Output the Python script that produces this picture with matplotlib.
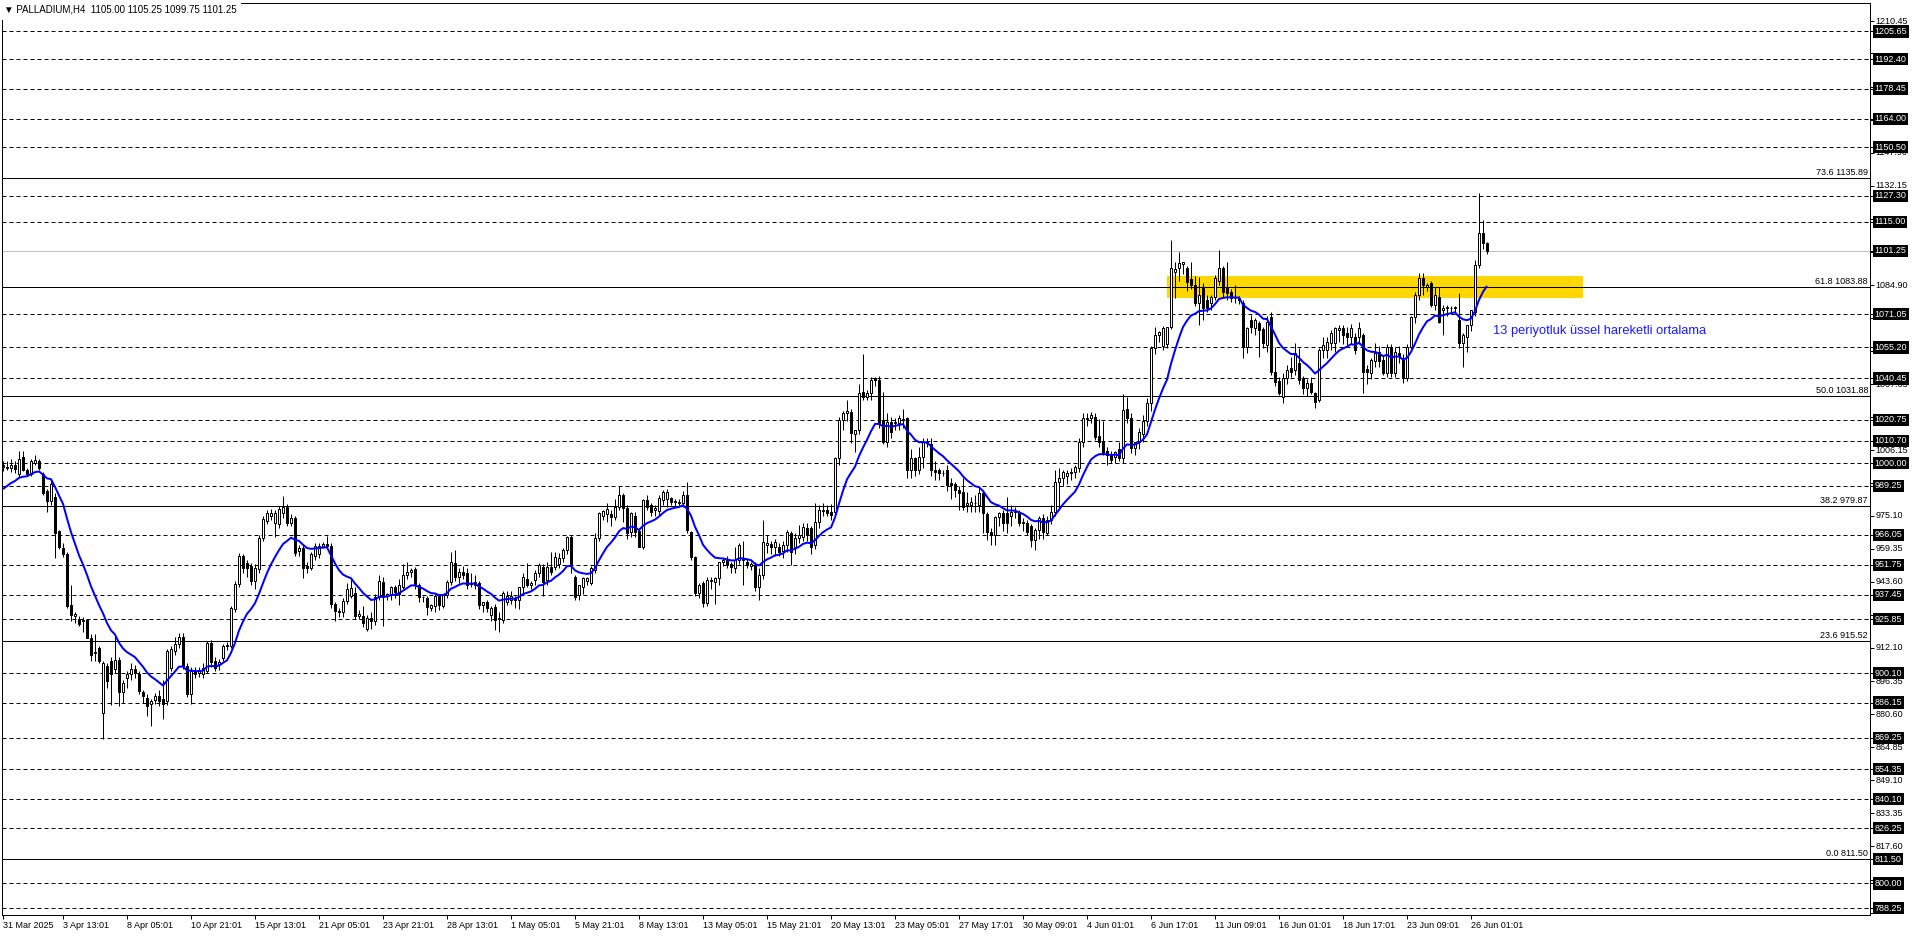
import matplotlib
matplotlib.use("Agg")
import matplotlib.pyplot as plt
import matplotlib.transforms as mtransforms
from matplotlib.patches import Rectangle
import numpy as np

# ---------------- data ----------------
title_text = "\u25bc PALLADIUM,H4  1105.00 1105.25 1099.75 1101.25"

opens = [
    999, 998.5, 998, 999, 995, 1003, 997, 995, 1000, 1001,
    995, 987, 982, 984, 968, 959.5, 957, 932.5, 927.5, 926,
    925, 925.5, 917, 909.5, 912, 881, 903.6, 906, 902, 906.5,
    891, 898, 899.6, 902, 899.6, 891, 888.5, 885.3, 887.5, 889.3,
    887.7, 886.9, 902.8, 910.7, 913.9, 917.1, 903.6, 890.1, 901.2, 900,
    899.6, 901.2, 914.7, 906, 904.5, 907.5, 913.1, 913.1, 930.6, 942.5,
    956, 952.8, 951.2, 944, 949.6, 964.7, 972.6, 975, 971.8, 971,
    976.6, 979, 971.8, 974.2, 958.3, 959.9, 951.2, 950.4, 956, 956.7,
    960.7, 961.5, 960.7, 932.9, 929, 929, 934.5, 936.9, 938.5, 927.4,
    927.4, 921, 926.6, 925, 936.5, 943.7, 937, 937.3, 941, 938,
    941.3, 946.8, 948.4, 949.5, 942, 936.5, 936, 931, 932, 937,
    932, 937.3, 943.7, 952.4, 946, 948.4, 947.6, 943, 942, 942.9,
    932.6, 934, 928, 931.8, 926, 925.4, 934, 935, 935, 934.8,
    941.3, 945, 942, 944.5, 947.6, 950.8, 944.5, 950.8, 950.8, 952,
    954.8, 958.8, 965.1, 946, 937.3, 941, 944, 943, 949, 964.3,
    975, 976, 976, 974.6, 979.4, 985, 978.6, 967.5, 975, 968,
    960.3, 982.5, 980, 978, 977.5, 982.5, 983, 983.3, 981.8, 981,
    981, 985, 967.5, 955.6, 938.1, 942.9, 933.4, 944, 943.7, 945.2,
    953, 954, 952, 950, 954, 955, 953, 951, 951.6, 941.3,
    947, 961, 961.5, 960, 960.3, 958.5, 961, 966.7, 960, 964.3,
    965, 969, 969, 961, 972, 977.5, 978, 977, 977, 1002.4,
    1020.6, 1024, 1024.5, 1014, 1015.9, 1034.2, 1031.8, 1033.4, 1040.5, 1039.7,
    1020.6, 1010.3, 1019.8, 1019, 1019, 1021, 1021.4, 996.8, 1002.4, 997,
    1003, 1010.3, 1009, 996.8, 996.8, 995.5, 996.8, 990.5, 990, 987.3,
    986.5, 980, 980, 981, 980, 985.7, 976, 967.5, 965.9, 974.6,
    976.2, 976.2, 975, 977, 977, 972, 971.4, 970, 963.5, 968.3,
    973.8, 966.7, 973, 977, 991.3, 992.8, 994, 995.5, 996, 997.6,
    1010.3, 1021, 1021.4, 1022, 1013, 1010, 1006, 1004, 1003, 1007,
    1002.4, 1026, 1021.4, 1007.2, 1010, 1014, 1020, 1028.6, 1055, 1061,
    1055.7, 1057, 1065, 1091, 1092.8, 1095, 1092.8, 1088, 1084.9, 1076.2,
    1084, 1077.8, 1076.2, 1079.4, 1087, 1092.8, 1083.3, 1081.7, 1078.6, 1078,
    1076.2, 1055.5, 1068.3, 1064.3, 1066.7, 1064, 1056.3, 1069.8, 1043.6, 1039,
    1031.7, 1040.5, 1045.2, 1044.4, 1047.6, 1040.5, 1035.7, 1038.1, 1033.3, 1030.2,
    1054, 1054, 1057.1, 1057.1, 1063.5, 1064.3, 1061.9, 1060, 1060.3, 1060.3,
    1061.1, 1045, 1043, 1048.5, 1053.2, 1049.2, 1043, 1055.5, 1043, 1052.4,
    1050, 1040.5, 1055.5, 1069.8, 1080.2, 1088.1, 1084, 1085.7, 1075.4, 1079.4,
    1073, 1073.8, 1074, 1074, 1068.3, 1057.1, 1060.3, 1066, 1072, 1094.4,
    1109.5, 1105,
]

highs = [
    1001, 1001, 1002, 1001, 1006, 1006, 998, 1002, 1004, 1002,
    996, 988, 992, 986, 968.5, 962, 958, 942, 929, 927.5,
    927, 926, 919, 919, 913, 906, 905, 908, 918.7, 908,
    897, 901, 905, 904, 901, 892, 890, 888, 890.5, 892,
    897, 911.5, 913, 917.1, 919.4, 919.4, 905, 903, 903, 903,
    905, 915.5, 916, 908, 907, 914, 915, 932, 944, 957.5,
    957, 954, 952.5, 952, 966, 975, 978, 978.5, 978, 979.5,
    984.5, 980.5, 976, 975, 961, 961, 953, 958, 962, 962,
    962.5, 965.5, 962, 934, 931, 936, 943, 945, 941, 930,
    932, 928, 929, 938, 947, 946, 938.5, 941.5, 942, 945,
    952, 953, 950, 950.5, 943, 937, 937, 933, 938, 938,
    938, 944.5, 958, 958.8, 950, 951, 950, 947.6, 947, 944,
    934, 935, 932, 933, 929, 939, 939, 939, 937, 941.3,
    948, 952.4, 944, 949, 952.4, 952, 953, 958, 958, 957.5,
    959.5, 965.5, 966, 947, 942, 946, 946, 951, 967, 977,
    978, 981, 978, 983, 989, 986, 980, 977, 977, 969,
    983, 985, 981, 980, 985, 987.5, 988, 984, 983, 983,
    987, 991.3, 968, 956, 943, 944, 946, 946, 946, 953,
    955, 956, 953, 960, 962, 963, 955, 953, 953, 950,
    973, 966, 963, 964, 962, 963, 968.3, 968, 967, 970.6,
    971.5, 971.5, 970, 981, 980, 981, 980, 980.5, 1003, 1022,
    1025, 1030, 1026, 1016, 1038, 1052, 1035, 1041, 1041, 1041.5,
    1034, 1024, 1022, 1021.5, 1023, 1026, 1022, 1007, 1003, 1008,
    1012, 1012, 1012, 1001, 998, 997, 999, 993, 991, 989,
    993, 986.5, 984, 985, 989, 987, 977, 969, 975, 977,
    978, 984, 980, 979, 978, 974, 973, 971, 969, 975,
    976, 975, 980, 997, 998, 997, 997, 998, 999.2, 1012,
    1023.8, 1024, 1024.5, 1024, 1021, 1020, 1008, 1006, 1006, 1010,
    1033, 1031.7, 1024, 1010, 1017, 1023, 1031, 1056, 1065, 1063,
    1065.5, 1065, 1106.3, 1096, 1100.8, 1096, 1094, 1096, 1089, 1088.9,
    1086, 1080, 1080, 1089.7, 1101.6, 1094, 1096, 1083, 1085, 1079.5,
    1077.8, 1065, 1070.6, 1069, 1068, 1065, 1070, 1072, 1055.5, 1041,
    1043, 1047, 1050.8, 1057.1, 1054.8, 1041.5, 1040, 1041, 1034, 1055,
    1060.3, 1060, 1063.5, 1065.1, 1065.9, 1066, 1065, 1066.5, 1062, 1067.5,
    1062, 1047, 1050, 1057.1, 1056, 1051, 1057, 1057, 1055.5, 1056,
    1052, 1057, 1070, 1081.7, 1090.5, 1090.5, 1086, 1087, 1084, 1084,
    1075.5, 1075.5, 1075, 1075, 1081, 1062, 1066, 1073, 1096.8, 1128.6,
    1115.9, 1105.25,
]

lows = [
    996.5, 997, 996, 995.5, 993, 996.5, 994, 994, 999, 997,
    985, 977, 980, 955, 959, 955.5, 931, 925, 924, 922.5,
    919.5, 917, 906, 906, 905, 869, 893, 885, 900, 884.5,
    886, 893, 897, 898, 890, 886, 879.8, 875, 885.5, 884.5,
    878.2, 885, 901, 909, 912, 902, 889, 885.3, 898, 898.5,
    898, 900, 903, 901, 901.5, 906, 911, 912, 929, 941,
    948, 946, 942, 940.1, 948, 963, 971, 973, 965, 969,
    974, 970, 970, 956, 956, 945.6, 948, 949, 954, 955,
    959.5, 959, 931, 925, 927, 927, 933, 936, 926, 926,
    922, 920, 921, 923, 935, 922.5, 935, 935, 936, 932.6,
    940, 945, 946, 940, 934, 934, 928, 929.5, 929, 930,
    931, 936, 942, 944, 943, 945, 940, 941, 940, 930.5,
    929, 929, 925, 920.7, 919.9, 924, 932.5, 933, 931, 930.8,
    938, 941, 940, 942, 946, 937, 942, 947, 949, 950,
    953, 957, 948, 935, 935, 938, 942, 942, 948, 963,
    973, 972, 970, 973, 978, 972, 964, 965, 965, 960,
    959, 978, 975, 975, 975, 980, 979, 980, 979, 979,
    979, 967, 954, 937, 936, 931.8, 932, 940, 933, 942,
    951, 950, 947.6, 948, 952, 942, 950, 949, 939, 935,
    945, 957.5, 957, 956, 956, 955, 958, 951.6, 957, 962,
    963, 963, 957, 959, 969, 975, 975, 973, 975, 999,
    1016, 1020, 1009.5, 1005.5, 1014, 1030, 1030, 1030, 1037, 1017,
    1009, 1008, 1012, 1016, 1016, 1017, 992.8, 993, 994, 995,
    998, 1008, 994, 992, 992, 994, 987, 983, 984, 977.7,
    978, 977, 977, 977, 977, 966.7, 963.5, 961, 961, 970,
    968, 967, 970, 974, 970, 968, 966, 960, 958.7, 964,
    964, 966, 971, 975, 978, 989, 990, 992, 993, 996,
    1008, 1018, 1019, 1011, 1008, 1004, 999, 1000, 1000, 1001,
    1000, 1019, 1005, 1004, 1007, 1010, 1018, 1025, 1052, 1058,
    1054, 1055, 1064, 1078.6, 1087, 1090, 1082, 1083, 1075, 1065.9,
    1068.3, 1072, 1073, 1078, 1085, 1079, 1077.8, 1077, 1076.2, 1076,
    1050, 1052.4, 1062, 1061, 1050.8, 1054.8, 1053, 1042, 1037, 1032.5,
    1028.6, 1038, 1041, 1042, 1038, 1033, 1032, 1033, 1026.2, 1029,
    1050, 1050, 1054, 1053, 1058, 1057, 1056, 1057, 1052, 1057,
    1033.3, 1038, 1040, 1046, 1046, 1042, 1041, 1041, 1041, 1048,
    1038.1, 1039, 1054, 1067, 1078, 1080, 1082, 1074.6, 1073, 1066.7,
    1061, 1070, 1071, 1072, 1054.8, 1046, 1053, 1063, 1070, 1093,
    1102, 1099.75,
]

closes = [
    998.5, 998, 999, 997.5, 1002, 997, 995, 1001, 1001.5, 998,
    986, 982, 990, 967, 960, 957, 932, 928, 928.5, 923.5,
    925.5, 917, 909, 910, 906, 905, 896.4, 899.6, 906.5, 891,
    895.6, 899.6, 902, 900.4, 891.7, 889.3, 884.5, 886.9, 889.3, 886.9,
    885.3, 910.7, 911.5, 913.9, 917.1, 903.6, 890.1, 901.2, 899.6, 901,
    902.8, 914.7, 905.2, 902.8, 905.2, 913.1, 913.5, 931.3, 942.5, 956,
    950.4, 950.4, 944, 950.4, 964.7, 973.4, 976.6, 976.6, 976.6, 978.2,
    979, 971.8, 974.2, 957.5, 959.9, 950.4, 950.4, 956.7, 960.7, 960.7,
    961.5, 960.7, 932.9, 929.8, 929.8, 934.5, 940.1, 940.9, 927.4, 928.2,
    924.2, 926.6, 925, 936.5, 944, 936.5, 937.6, 941.3, 938.6, 942,
    946.8, 948.4, 949.2, 942, 936.5, 936.2, 931.8, 932.5, 937, 932.5,
    937.3, 943.7, 953.2, 946, 948.4, 946.8, 942, 942.5, 943.7, 932.6,
    934.2, 931, 931, 925.4, 925.9, 938.1, 937, 936.9, 935.5, 941.3,
    946, 942, 943, 947.6, 951.6, 943.7, 950.8, 948.4, 955.6, 954.8,
    958.8, 965.1, 952, 936.5, 942, 945.2, 945.5, 950, 964.3, 976.2,
    977.3, 978.5, 974.6, 979.4, 985, 978.6, 966.7, 976.2, 967.5, 960.3,
    982.5, 979.4, 977, 978.6, 983.3, 986.5, 986.5, 981.8, 981.8, 981.4,
    985, 968.3, 955.6, 938.1, 942, 933.4, 944.5, 944.5, 945.2, 953.2,
    954, 951.6, 950.8, 954, 961, 954.2, 951.5, 952, 941.3, 946.8,
    962.7, 962, 960.3, 962.7, 958, 961, 967.5, 958, 964.3, 965.9,
    969.8, 965.9, 960.3, 972, 977.8, 977.8, 976.2, 975.4, 1002.4, 1020.6,
    1023.8, 1024.8, 1014.3, 1015.9, 1033.7, 1031.8, 1033.4, 1039.7, 1039.7, 1019,
    1010.3, 1019.8, 1015, 1019.8, 1021.4, 1020.6, 996.8, 1002.4, 996.8, 1003,
    1010.3, 1009.5, 996.8, 996, 995.2, 995.2, 989.7, 989.7, 987.3, 985.7,
    979.4, 980.9, 981.7, 980.9, 985.7, 976.2, 967.5, 965.9, 974.6, 976.2,
    971.4, 971.4, 977, 977.5, 971.4, 971.4, 967.5, 963.5, 968.3, 973.8,
    967.5, 973, 977, 991.3, 992.8, 996, 995.5, 996, 998.4, 1010.3,
    1021.4, 1021.4, 1023, 1012.7, 1010.3, 1004.7, 1004, 1001.6, 1005.5, 1002.4,
    1025.4, 1021.4, 1007.2, 1010.3, 1015, 1020, 1028.6, 1054.8, 1061.1, 1062.7,
    1064.3, 1065, 1092.8, 1092.5, 1095.2, 1095.7, 1086.5, 1084.9, 1076.2, 1080.2,
    1073.8, 1073.8, 1079.4, 1088.1, 1092.8, 1081.7, 1081, 1078.6, 1078.8, 1078.8,
    1055.5, 1064.3, 1065.1, 1068.3, 1063.5, 1057.1, 1067.5, 1043.6, 1038.9, 1033.3,
    1040.5, 1044.4, 1043.6, 1052.4, 1039.7, 1035.7, 1038.1, 1034.1, 1029.4, 1054,
    1056.3, 1057.9, 1061.9, 1064.3, 1064.3, 1061.1, 1060.3, 1064.3, 1054, 1064.3,
    1043.6, 1043.6, 1049.2, 1052.4, 1048.5, 1043, 1055.5, 1043, 1053.2, 1051,
    1040.5, 1055.5, 1069.8, 1080.2, 1088.1, 1084.9, 1085, 1075.4, 1080.2, 1067.5,
    1073.8, 1074.6, 1073.8, 1074.6, 1057.1, 1061.1, 1065.9, 1073, 1094.4, 1109.5,
    1104.8, 1101.25,
]

ema_period = 13
ema_seed = 986.0   # value of the moving average just before the first visible bar

# x-axis labels (bar index where each label sits)
time_tick_bars = [0, 15, 31, 47, 63, 79, 95, 111, 127, 143, 159, 175, 191, 207,
                  223, 239, 255, 271, 287, 303, 319, 335, 351, 367]
time_tick_labels = ["31 Mar 2025", "3 Apr 13:01", "8 Apr 05:01", "10 Apr 21:01",
                    "15 Apr 13:01", "21 Apr 05:01", "23 Apr 21:01", "28 Apr 13:01",
                    "1 May 05:01", "5 May 21:01", "8 May 13:01", "13 May 05:01",
                    "15 May 21:01", "20 May 13:01", "23 May 05:01", "27 May 17:01",
                    "30 May 09:01", "4 Jun 01:01", "6 Jun 17:01", "11 Jun 09:01",
                    "16 Jun 01:01", "18 Jun 17:01", "23 Jun 09:01", "26 Jun 01:01"]

# price-scale tick marks, and the labels that are not covered by a price box
price_ticks = [1210.45, 1195.15, 1179.40, 1163.65, 1147.90, 1132.15, 1116.40, 1100.65,
               1084.90, 1069.15, 1053.40, 1037.65, 1021.90, 1006.15, 990.85, 975.10,
               959.35, 943.60, 927.85, 912.10, 896.35, 880.60, 864.85, 849.10,
               833.35, 817.60, 801.85, 786.10]
price_tick_labels = [1210.45, 1147.90, 1132.15, 1084.90, 1037.65, 1006.15, 975.10,
                     959.35, 943.60, 912.10, 896.35, 880.60, 864.85, 849.10,
                     833.35, 817.60]

# horizontal dashed levels (each with a black price box)
dashed_levels = [1205.65, 1192.40, 1178.45, 1164.00, 1150.50, 1127.30, 1115.00,
                 1071.05, 1055.20, 1040.45, 1020.75, 1010.70, 1000.00, 989.25,
                 966.05, 951.75, 937.45, 925.85, 900.10, 886.15, 869.25, 854.35,
                 840.10, 826.25, 800.00, 788.25]
bid_price = 1101.25

# Fibonacci levels
fib_ratios = ["73.6", "61.8", "50.0", "38.2", "23.6", "0.0"]
fib_prices = [1135.89, 1083.88, 1031.88, 979.87, 915.52, 811.50]
boxed_fib = [811.50]

# highlighted zone
zone_start_bar, zone_end_bar = 290.9, 394.9
zone_low, zone_high = 1078.9, 1089.2

ema_label = "13 periyotluk üssel hareketli ortalama"
ema_label_pos = (372.5, 1063.0)

# ---------------- figure ----------------
W, H = 1916, 936
DPI = 100
FONT = ["Liberation Sans", "DejaVu Sans"]
plt.rcParams["font.family"] = FONT

fig = plt.figure(figsize=(W / DPI, H / DPI), dpi=DPI, facecolor="white")
ax_left, ax_right, ax_top, ax_bottom = 2, 1870, 3, 915
ax = fig.add_axes([ax_left / W, 1 - ax_bottom / H, (ax_right - ax_left) / W,
                   (ax_bottom - ax_top) / H])
ax.set_facecolor("white")

n = len(closes)
x = np.arange(n)
o = np.array(opens, float)
h = np.array(highs, float)
l = np.array(lows, float)
c = np.array(closes, float)

px_per_bar = 4.0
ax.set_xlim((ax_left - 3) / px_per_bar, (ax_right - 3) / px_per_bar)
ax.set_ylim(784.98, 1219.18)

LW1 = 72 / DPI  # one pixel in points

# zone
ax.add_patch(Rectangle((zone_start_bar, zone_low), zone_end_bar - zone_start_bar,
                       zone_high - zone_low, facecolor="#FFD700", edgecolor="none",
                       zorder=1))

# dashed levels
for lv in dashed_levels:
    ax.axhline(lv, color="black", lw=LW1, linestyle=(0, (4, 3)), zorder=2)
# bid line
ax.axhline(bid_price, color="#C0C0C0", lw=LW1, zorder=2)
# fib lines
for lv in fib_prices:
    ax.axhline(lv, color="black", lw=LW1, zorder=2)

# candles
ax.vlines(x, l, h, color="black", lw=LW1, zorder=3)
body_low = np.minimum(o, c)
body_h = np.maximum(np.abs(c - o), 0.35)
up = c >= o
ax.bar(x, body_h, bottom=body_low, width=0.5,
       color=np.where(up, "white", "black"), edgecolor="black",
       linewidth=LW1, zorder=4)

# EMA
alpha = 2.0 / (ema_period + 1)
ema = []
e = ema_seed
for v in c:
    e = e + alpha * (v - e)
    ema.append(e)
ax.plot(x, ema, color="#0000FF", lw=2 * LW1, zorder=5, solid_capstyle="butt")

# EMA label
ax.text(ema_label_pos[0], ema_label_pos[1], ema_label, color="#1a1aff",
        fontsize=9.3, va="center", ha="left", zorder=6)

# fib labels
trans_ax_data = mtransforms.blended_transform_factory(ax.transAxes, ax.transData)
for r, p in zip(fib_ratios, fib_prices):
    ax.annotate(f"{r} {p:.2f}", xy=(1.0, p), xycoords=trans_ax_data,
                xytext=(-2 * LW1, 1 * LW1), textcoords="offset points",
                ha="right", va="bottom", fontsize=6.5, color="black", zorder=6)

# spines
for s in ax.spines.values():
    s.set_linewidth(LW1)
    s.set_color("black")

# y axis on the right: tick marks for every grid value and price box
ax.yaxis.tick_right()
ax.set_yticks(price_ticks + dashed_levels + [bid_price] + boxed_fib)
ax.set_yticklabels([])
ax.tick_params(axis="y", which="both", direction="out", length=4 * LW1,
               width=LW1, colors="black")

trans_fig_data = mtransforms.blended_transform_factory(fig.transFigure, ax.transData)
for v in price_tick_labels:
    fig.text(1875.5 / W, v, f"{v:.2f}", transform=trans_fig_data, color="black",
             fontsize=6.5, va="center", ha="left", zorder=9)

# x axis
ax.set_xticks(time_tick_bars)
ax.set_xticklabels(time_tick_labels)
ax.tick_params(axis="x", direction="out", length=4 * LW1, width=LW1, pad=1.5 * LW1,
               labelsize=6.5, colors="black")
for lab in ax.get_xticklabels():
    lab.set_ha("left")

# price boxes
for lv in dashed_levels + [bid_price] + boxed_fib:
    fig.text(1874.5 / W, lv, f"{lv:.2f}", transform=trans_fig_data, color="white",
             fontsize=6.5, va="center", ha="left", zorder=10,
             bbox=dict(boxstyle="square,pad=0.18", facecolor="black",
                       edgecolor="none"))

# title
fig.text(4 / W, 1 - 10 / H, title_text, fontsize=7, va="center", ha="left",
         color="black", zorder=10,
         bbox=dict(boxstyle="square,pad=0.5", facecolor="white", edgecolor="none"))

fig.savefig("out.png", dpi=DPI, facecolor="white")
